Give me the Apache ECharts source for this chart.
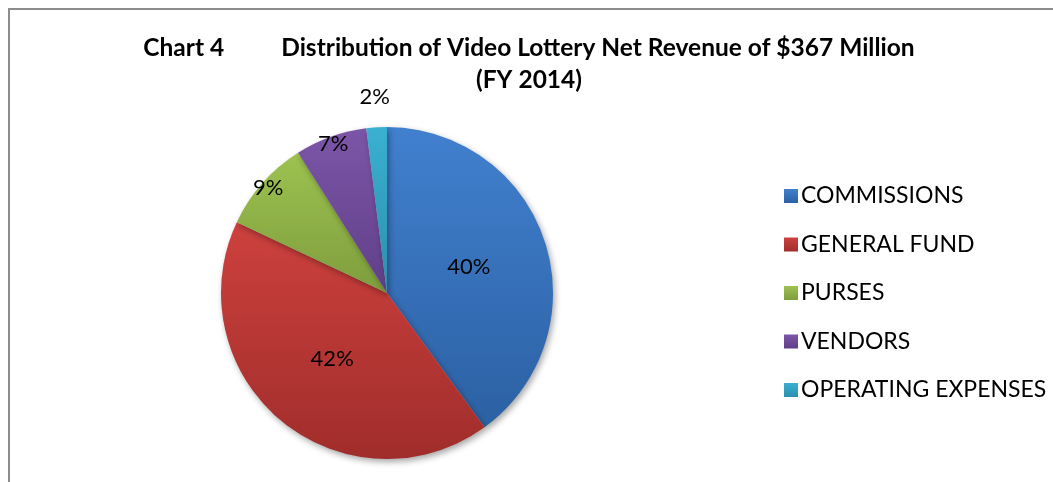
<!DOCTYPE html>
<html><head><meta charset="utf-8">
<script src="https://cdn.jsdelivr.net/npm/echarts@6/dist/echarts.min.js"></script>
<style>
html,body{margin:0;padding:0;background:#fff;}
#frame{position:absolute;left:8px;top:8px;width:1045px;height:474px;border-left:2px solid #8c8c8c;border-top:2px solid #8c8c8c;box-sizing:border-box;}
#chart{position:absolute;left:0;top:0;width:1053px;height:482px;}
</style></head>
<body>
<div id="frame"></div>
<div id="chart"></div>
<script>
const categories = ['COMMISSIONS','GENERAL FUND','PURSES','VENDORS','OPERATING EXPENSES'];
const values = [40, 42, 9, 7, 2];
const titleLine1 = 'Chart 4';
const titleLine2 = 'Distribution of Video Lottery Net Revenue of $367 Million';
const titleLine3 = '(FY 2014)';

const colorsTop = ['#4180cf','#cd413e','#9dc250','#7c55a8','#3ab0d1'];
const colorsBot = ['#2c61a3','#a02d2b','#7e9d3d','#603f88','#2b8fad'];
const FONT = 'Lato';

function grad(i){
  return new echarts.graphic.LinearGradient(0,0,0,1,[{offset:0,color:colorsTop[i]},{offset:1,color:colorsBot[i]}]);
}
const innerLabels = [0,1];
const rimLabels = [2,3];
const outerLabels = [4];

function makeData(showIdx, colored){
  return categories.map((c,i)=>({
    name:c, value:values[i],
    itemStyle: colored ? {color:grad(i)} : {color:'rgba(0,0,0,0)'},
    label:{show: showIdx.indexOf(i)>=0}
  }));
}
const center = [387, 293];
const chart = echarts.init(document.getElementById('chart'));
const lblStyle = {position:'inside', formatter: p=>p.value+'%', color:'#000', fontSize:22, fontFamily:FONT};
chart.setOption({
  animation:false,
  title:{
    text:'{a|'+titleLine1+'}{g|}{a|'+titleLine2+'}\n{a|'+titleLine3+'}',
    left:524, top:27, textAlign:'center',
    textStyle:{rich:{
      a:{fontSize:24.5, fontWeight:'bold', fontFamily:FONT, color:'#000', lineHeight:32},
      g:{width:57}
    }}
  },
  legend:{
    orient:'vertical', left:779, top:177, itemGap:20.5, itemWidth:14, itemHeight:14,
    icon:'rect', data:categories,
    textStyle:{fontSize:23, lineHeight:28, fontFamily:FONT, color:'#000', padding:[0,0,0,-2]}
  },
  series:[
    {type:'pie', center:center, radius:[0,166], startAngle:90, clockwise:true,
     data:makeData(innerLabels,true), label:lblStyle, labelLine:{show:false},
     itemStyle:{shadowBlur:6, shadowOffsetX:2, shadowOffsetY:3, shadowColor:'rgba(0,0,0,0.35)'},
     silent:true},
    {type:'pie', center:center, radius:[0,311], startAngle:90, clockwise:true,
     data:makeData(rimLabels,false), label:lblStyle, labelLine:{show:false}, silent:true, legendHoverLink:false},
    {type:'pie', center:center, radius:[0,386], startAngle:90, clockwise:true,
     data:makeData(outerLabels,false), label:lblStyle, labelLine:{show:false}, silent:true, legendHoverLink:false}
  ]
});
</script>
</body></html>
